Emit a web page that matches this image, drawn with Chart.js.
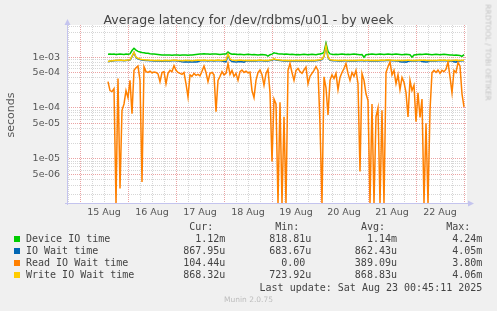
<!DOCTYPE html>
<html>
<head>
<meta charset="utf-8">
<script src="https://cdn.jsdelivr.net/npm/chart.js@4.4.1/dist/chart.umd.min.js"></script>
<style>
  html, body { margin: 0; padding: 0; background: #f0f0f0; }
  #wrap { position: relative; width: 497px; height: 311px; overflow: hidden; font-family: "DejaVu Sans", sans-serif; }
  #chart { position: absolute; left: 0; top: 0; }
  .t { position: absolute; white-space: pre; }
  .mono { font-family: "DejaVu Sans Mono", monospace; font-size: 10px; line-height: 12px; color: #444; }
  .sq { position: absolute; width: 6px; height: 6px; }
</style>
</head>
<body>
<div id="wrap">
  <canvas id="chart" width="497" height="311"></canvas>
  <div class="t" id="title" style="left:0; width:497px; top:12px; text-align:center; font-size:12.5px; line-height:15px; color:#444;">Average latency for /dev/rdbms/u01 - by week</div>
  <div class="t" style="left:-19px; top:109px; width:60px; text-align:center; font-size:11px; line-height:12px; color:#555; transform:rotate(-90deg);">seconds</div>
  <div class="t" style="left:438px; top:48px; width:100px; text-align:center; font-size:7.5px; line-height:9px; color:#c4c4c4; transform:rotate(90deg);">RRDTOOL / TOBI OETIKER</div>
  <div class="t" style="left:0; width:497px; top:295px; text-align:center; font-size:7.5px; line-height:10px; color:#bdbdbd;">Munin 2.0.75</div>
  <div id="legend"></div>
</div>
<script>
// Sample times: hours after 15 Aug 00:00, one value per hour
const startHour = 14;
const stepHours = 1;

// Device IO time (seconds)
const deviceIO = [
  1.14e-3, 1.15e-3, 1.14e-3, 1.15e-3, 1.13e-3, 1.14e-3, 1.15e-3, 1.14e-3, 1.13e-3, 1.15e-3, 1.14e-3, 1.16e-3,
  1.35e-3, 1.50e-3, 1.38e-3, 1.30e-3, 1.27e-3, 1.24e-3, 1.22e-3, 1.20e-3, 1.19e-3, 1.17e-3, 1.16e-3, 1.15e-3,
  1.14e-3, 1.13e-3, 1.12e-3, 1.11e-3, 1.10e-3, 1.10e-3, 1.11e-3, 1.10e-3, 1.09e-3, 1.10e-3, 1.11e-3, 1.10e-3,
  1.09e-3, 1.10e-3, 1.11e-3, 1.10e-3, 1.09e-3, 1.10e-3, 1.11e-3, 1.12e-3, 1.13e-3, 1.14e-3, 1.15e-3, 1.16e-3,
  1.17e-3, 1.16e-3, 1.15e-3, 1.14e-3, 1.15e-3, 1.16e-3, 1.15e-3, 1.14e-3, 1.13e-3, 1.14e-3, 1.15e-3, 1.16e-3,
  1.27e-3, 1.18e-3, 1.14e-3, 1.15e-3, 1.14e-3, 1.13e-3, 1.14e-3, 1.13e-3, 1.12e-3, 1.13e-3, 1.14e-3, 1.13e-3,
  1.12e-3, 1.13e-3, 1.12e-3, 1.11e-3, 1.12e-3, 1.13e-3, 1.12e-3, 1.11e-3, 1.05e-3, 1.12e-3, 1.15e-3, 1.22e-3,
  1.19e-3, 1.17e-3, 1.16e-3, 1.15e-3, 1.14e-3, 1.15e-3, 1.14e-3, 1.13e-3, 1.14e-3, 1.13e-3, 1.12e-3, 1.13e-3,
  1.12e-3, 1.13e-3, 1.14e-3, 1.13e-3, 1.12e-3, 1.13e-3, 1.14e-3, 1.13e-3, 1.12e-3, 1.14e-3, 1.16e-3, 1.18e-3,
  1.25e-3, 1.88e-3, 1.30e-3, 1.16e-3, 1.14e-3, 1.13e-3, 1.14e-3, 1.13e-3, 1.14e-3, 1.15e-3, 1.14e-3, 1.13e-3,
  1.14e-3, 1.13e-3, 1.14e-3, 1.15e-3, 1.14e-3, 1.13e-3, 1.12e-3, 1.13e-3, 1.00e-3, 1.12e-3, 1.13e-3, 1.14e-3,
  1.15e-3, 1.14e-3, 1.13e-3, 1.14e-3, 1.15e-3, 1.14e-3, 1.13e-3, 1.14e-3, 1.15e-3, 1.14e-3, 1.13e-3, 1.14e-3,
  1.15e-3, 1.14e-3, 1.13e-3, 1.12e-3, 1.13e-3, 1.14e-3, 1.13e-3, 1.12e-3, 1.00e-3, 1.11e-3, 1.12e-3, 1.13e-3,
  1.14e-3, 1.13e-3, 1.14e-3, 1.15e-3, 1.14e-3, 1.13e-3, 1.12e-3, 1.13e-3, 1.14e-3, 1.13e-3, 1.12e-3, 1.13e-3,
  1.14e-3, 1.13e-3, 1.12e-3, 1.11e-3, 1.10e-3, 1.09e-3, 1.10e-3, 1.09e-3, 1.08e-3, 1.04e-3, 1.12e-3
];

// IO Wait time
const ioWait = [
  8.1e-4, 8.3e-4, 8.4e-4, 8.5e-4, 8.6e-4, 8.6e-4, 8.7e-4, 8.6e-4, 8.5e-4, 8.6e-4, 8.7e-4, 8.8e-4,
  10.3e-4, 12.3e-4, 9.8e-4, 9.3e-4, 9.0e-4, 8.8e-4, 8.7e-4, 8.6e-4, 8.6e-4, 8.5e-4, 8.5e-4, 8.4e-4,
  8.4e-4, 8.5e-4, 8.4e-4, 8.3e-4, 8.4e-4, 8.5e-4, 8.4e-4, 8.4e-4, 8.5e-4, 8.6e-4, 8.5e-4, 8.4e-4,
  8.3e-4, 8.1e-4, 8.0e-4, 8.1e-4, 8.0e-4, 8.1e-4, 8.0e-4, 8.1e-4, 8.0e-4, 8.1e-4, 8.5e-4, 8.5e-4,
  8.6e-4, 8.5e-4, 8.4e-4, 8.5e-4, 8.5e-4, 8.4e-4, 8.5e-4, 8.6e-4, 8.5e-4, 8.4e-4, 8.2e-4, 8.1e-4,
  11.2e-4, 8.8e-4, 8.2e-4, 8.1e-4, 8.0e-4, 8.1e-4, 8.2e-4, 8.1e-4, 8.0e-4, 8.5e-4, 8.4e-4, 8.5e-4,
  8.4e-4, 8.5e-4, 8.4e-4, 8.5e-4, 8.6e-4, 8.5e-4, 8.4e-4, 8.5e-4, 8.4e-4, 8.6e-4, 8.7e-4, 9.1e-4,
  8.8e-4, 8.7e-4, 8.6e-4, 8.5e-4, 8.4e-4, 8.5e-4, 8.4e-4, 8.5e-4, 8.4e-4, 8.4e-4, 8.5e-4, 8.4e-4,
  8.5e-4, 8.4e-4, 8.4e-4, 8.5e-4, 8.4e-4, 8.4e-4, 8.5e-4, 8.4e-4, 8.5e-4, 8.6e-4, 8.7e-4, 9.0e-4,
  10.3e-4, 16.8e-4, 9.8e-4, 8.7e-4, 8.6e-4, 8.5e-4, 8.5e-4, 8.4e-4, 8.5e-4, 8.4e-4, 8.5e-4, 8.5e-4,
  8.4e-4, 8.5e-4, 8.4e-4, 8.5e-4, 8.4e-4, 8.5e-4, 8.5e-4, 8.6e-4, 8.4e-4, 8.5e-4, 8.5e-4, 8.4e-4,
  8.5e-4, 8.4e-4, 8.5e-4, 8.4e-4, 8.5e-4, 8.6e-4, 8.5e-4, 8.6e-4, 8.7e-4, 8.6e-4, 8.5e-4, 8.5e-4,
  8.4e-4, 8.5e-4, 8.1e-4, 8.0e-4, 8.1e-4, 8.0e-4, 8.2e-4, 8.5e-4, 8.4e-4, 8.5e-4, 8.4e-4, 8.5e-4,
  8.6e-4, 8.2e-4, 8.1e-4, 8.0e-4, 8.1e-4, 8.5e-4, 8.4e-4, 8.5e-4, 8.4e-4, 8.5e-4, 8.6e-4, 8.5e-4,
  8.6e-4, 8.5e-4, 8.4e-4, 8.5e-4, 8.4e-4, 8.1e-4, 8.0e-4, 8.5e-4, 8.4e-4, 8.5e-4, 8.5e-4
];

// Read IO Wait time (0 = idle, drawn on the axis floor)
const readIOWait = [
  3.3e-4, 2.2e-4, 2.1e-4, 2.4e-4, 0, 3.8e-4, 2.6e-6, 9e-5, 1.2e-4, 2.2e-4, 1.6e-4, 3.5e-4,
  7.7e-5, 5.5e-4, 6.2e-4, 6.7e-4, 3.5e-4, 3.5e-6, 6.5e-4, 5.2e-4, 5.0e-4, 5.3e-4, 4.9e-4, 5.1e-4,
  5.0e-4, 4.7e-4, 3.3e-4, 5.0e-4, 5.2e-4, 3.0e-4, 4.8e-4, 5.5e-4, 5.2e-4, 6.8e-4, 5.5e-4, 5.0e-4,
  4.8e-4, 4.6e-4, 5.0e-4, 3.0e-4, 1.65e-4, 4.5e-4, 4.2e-4, 4.8e-4, 4.4e-4, 4.6e-4, 4.3e-4, 5.3e-4,
  6.7e-4, 5.0e-4, 3.3e-4, 4.8e-4, 5.0e-4, 4.5e-4, 8.5e-5, 3.5e-4, 4.2e-4, 5.2e-4, 4.5e-4, 4.8e-4,
  7.5e-4, 4.6e-4, 5.5e-4, 4.2e-4, 4.8e-4, 3.5e-4, 5.2e-4, 5.6e-4, 5.0e-4, 5.3e-4, 4.9e-4, 5.1e-4,
  2.2e-4, 1.6e-4, 3.5e-4, 5.0e-4, 5.6e-4, 4.5e-4, 2.8e-4, 4.8e-4, 5.8e-4, 2.0e-4, 8.9e-6, 1.5e-4,
  1.2e-4, 0, 1.3e-4, 0, 6.7e-5, 0, 5.5e-4, 7.5e-4, 5.0e-4, 3.5e-4, 5.5e-4, 6.0e-4,
  5.2e-4, 4.8e-4, 5.6e-4, 6.4e-4, 3.0e-4, 4.2e-4, 4.8e-4, 5.5e-4, 6.5e-4, 5.5e-4, 4.8e-5, 0,
  4.1e-4, 2.5e-4, 7.3e-5, 3.5e-4, 4.5e-4, 3.8e-4, 4.8e-4, 2.3e-4, 4.0e-4, 5.0e-4, 6.0e-4, 7.5e-4,
  4.8e-4, 3.5e-4, 5.0e-4, 4.2e-4, 5.5e-4, 3.0e-4, 5.6e-6, 4.8e-4, 3.5e-4, 1.9e-4, 1.4e-4, 0,
  1.2e-4, 0, 6.7e-5, 1.0e-4, 0, 9.0e-5, 0, 5.0e-4, 6.5e-4, 8.1e-4, 4.5e-4, 5.5e-4,
  3.0e-4, 4.5e-4, 2.3e-4, 4.0e-4, 3.2e-4, 2.0e-4, 6.7e-5, 3.5e-4, 2.2e-4, 2.8e-4, 5.4e-5, 2.0e-4,
  6.5e-5, 1.5e-4, 0, 5.0e-5, 0, 9.0e-5, 5.0e-4, 5.5e-4, 5.0e-4, 5.6e-4, 4.8e-4, 5.5e-4,
  5.2e-4, 5.8e-4, 8.0e-4, 4.1e-4, 2.0e-4, 5.5e-4, 5.0e-4, 7.8e-4, 6.7e-4, 1.9e-4, 1.05e-4
];

// Write IO Wait time
const writeIOWait = [
  8.2e-4, 8.4e-4, 8.5e-4, 8.6e-4, 8.7e-4, 8.7e-4, 8.8e-4, 8.7e-4, 8.6e-4, 8.7e-4, 8.8e-4, 8.9e-4,
  10.5e-4, 12.5e-4, 10.0e-4, 9.5e-4, 9.2e-4, 9.0e-4, 8.9e-4, 8.8e-4, 8.8e-4, 8.7e-4, 8.7e-4, 8.6e-4,
  8.6e-4, 8.7e-4, 8.6e-4, 8.5e-4, 8.6e-4, 8.7e-4, 8.6e-4, 8.6e-4, 8.7e-4, 8.8e-4, 8.7e-4, 8.6e-4,
  8.6e-4, 8.5e-4, 8.6e-4, 8.7e-4, 8.6e-4, 8.6e-4, 8.5e-4, 8.6e-4, 8.7e-4, 8.8e-4, 8.7e-4, 8.7e-4,
  8.8e-4, 8.7e-4, 8.6e-4, 8.7e-4, 8.7e-4, 8.6e-4, 8.7e-4, 8.8e-4, 8.7e-4, 8.6e-4, 8.7e-4, 8.8e-4,
  11.5e-4, 9.2e-4, 8.8e-4, 8.7e-4, 8.6e-4, 8.7e-4, 8.8e-4, 8.7e-4, 8.6e-4, 8.7e-4, 8.6e-4, 8.7e-4,
  8.6e-4, 8.7e-4, 8.6e-4, 8.7e-4, 8.8e-4, 8.7e-4, 8.6e-4, 8.7e-4, 8.6e-4, 8.8e-4, 8.9e-4, 9.3e-4,
  9.0e-4, 8.9e-4, 8.8e-4, 8.7e-4, 8.6e-4, 8.7e-4, 8.6e-4, 8.7e-4, 8.6e-4, 8.6e-4, 8.7e-4, 8.6e-4,
  8.7e-4, 8.6e-4, 8.6e-4, 8.7e-4, 8.6e-4, 8.6e-4, 8.7e-4, 8.6e-4, 8.7e-4, 8.8e-4, 8.9e-4, 9.2e-4,
  10.5e-4, 17.0e-4, 10.0e-4, 8.9e-4, 8.8e-4, 8.7e-4, 8.7e-4, 8.6e-4, 8.7e-4, 8.6e-4, 8.7e-4, 8.7e-4,
  8.6e-4, 8.7e-4, 8.6e-4, 8.7e-4, 8.6e-4, 8.7e-4, 8.7e-4, 8.8e-4, 8.6e-4, 8.7e-4, 8.7e-4, 8.6e-4,
  8.7e-4, 8.6e-4, 8.7e-4, 8.6e-4, 8.7e-4, 8.8e-4, 8.7e-4, 8.8e-4, 8.9e-4, 8.8e-4, 8.7e-4, 8.7e-4,
  8.6e-4, 8.7e-4, 8.6e-4, 8.7e-4, 8.6e-4, 8.7e-4, 8.8e-4, 8.7e-4, 8.6e-4, 8.7e-4, 8.6e-4, 8.7e-4,
  8.8e-4, 8.7e-4, 8.8e-4, 8.7e-4, 8.6e-4, 8.7e-4, 8.6e-4, 8.7e-4, 8.6e-4, 8.7e-4, 8.8e-4, 8.7e-4,
  8.8e-4, 8.7e-4, 8.6e-4, 8.7e-4, 8.6e-4, 8.7e-4, 8.8e-4, 8.7e-4, 8.6e-4, 8.7e-4, 8.7e-4
];

const seriesNames = ['Device IO time', 'IO Wait time', 'Read IO Wait time', 'Write IO Wait time'];
const seriesColors = ['#00cc00', '#0066b3', '#ff8000', '#ffcc00'];
const curValues = ['1.12m', '867.95u', '104.44u', '868.32u'];
const minValues = ['818.81u', '683.67u', '0.00 ', '723.92u'];
const avgValues = ['1.14m', '862.43u', '389.09u', '868.83u'];
const maxValues = ['4.24m', '4.05m', '3.80m', '4.06m'];
const lastUpdate = 'Last update: Sat Aug 23 00:45:11 2025';

// Axis ticks
const xLabels = ['15 Aug', '16 Aug', '17 Aug', '18 Aug', '19 Aug', '20 Aug', '21 Aug', '22 Aug'];
const yTickValues = [5e-6, 1e-5, 5e-5, 1e-4, 5e-4, 1e-3];
const yTickLabels = ['5e-06', '1e-05', '5e-05', '1e-04', '5e-04', '1e-03'];

const hourMin = -6.5, hourMax = 193.5;
const yMin = 1.35e-6, yMax = 4.3e-3;

const majorGrid = '#eaa3a3';
const minorGrid = '#d6d6d6';
const axisColor = '#c4c4ee';

function toPoints(values) {
    return values.map((v, i) => ({ x: startHour + i * stepHours, y: v === 0 ? yMin : v }));
}

function yLabelIndex(v) {
    return yTickValues.findIndex(t => Math.abs(v - t) / t < 1e-6);
}

// grid lines every 6 hours, red at midnight
const xGrid = [];
for (let h = -6; h <= hourMax; h += 6) xGrid.push(h);

// log grid: 1..9 per decade
const yGrid = [];
for (let e = -6; e <= -3; e++) {
    for (let m = 1; m <= 9; m++) {
        const v = Number((m * Math.pow(10, e)).toPrecision(3));
        if (v >= yMin && v <= yMax) yGrid.push(v);
    }
}

const plotBackground = {
    id: 'plotBackground',
    beforeDraw(chart) {
        const { ctx, chartArea: a } = chart;
        ctx.save();
        ctx.fillStyle = '#ffffff';
        ctx.fillRect(a.left, a.top, a.right - a.left, a.bottom - a.top);
        ctx.restore();
    },
    afterDraw(chart) {
        const { ctx, chartArea: a } = chart;
        ctx.save();
        ctx.strokeStyle = axisColor;
        ctx.fillStyle = axisColor;
        ctx.lineWidth = 1;
        ctx.beginPath();
        ctx.moveTo(a.left + 0.5, a.bottom + 2);
        ctx.lineTo(a.left + 0.5, a.top - 2);
        ctx.moveTo(a.left - 2, a.bottom + 0.5);
        ctx.lineTo(a.right + 3, a.bottom + 0.5);
        ctx.stroke();
        // arrows
        ctx.beginPath();
        ctx.moveTo(a.left + 0.5, a.top - 6);
        ctx.lineTo(a.left - 2.5, a.top);
        ctx.lineTo(a.left + 3.5, a.top);
        ctx.closePath();
        ctx.fill();
        ctx.beginPath();
        ctx.moveTo(a.right + 7, a.bottom + 0.5);
        ctx.lineTo(a.right + 1, a.bottom - 2.5);
        ctx.lineTo(a.right + 1, a.bottom + 3.5);
        ctx.closePath();
        ctx.fill();
        ctx.restore();
    }
};

function lineSet(label, values, color, order) {
    return {
        label: label,
        data: toPoints(values),
        borderColor: color,
        backgroundColor: color,
        borderWidth: 1.5,
        pointRadius: 0,
        tension: 0,
        order: order
    };
}

new Chart(document.getElementById('chart'), {
    type: 'line',
    data: {
        datasets: [
            lineSet(seriesNames[0], deviceIO, seriesColors[0], 4),
            lineSet(seriesNames[1], ioWait, seriesColors[1], 3),
            lineSet(seriesNames[2], readIOWait, seriesColors[2], 2),
            lineSet(seriesNames[3], writeIOWait, seriesColors[3], 1)
        ]
    },
    options: {
        responsive: false,
        animation: false,
        events: [],
        layout: { padding: { left: 0, top: 25, right: 30, bottom: 0 } },
        plugins: { legend: { display: false }, tooltip: { enabled: false } },
        scales: {
            x: {
                type: 'linear',
                min: hourMin,
                max: hourMax,
                bounds: 'data',
                afterBuildTicks: s => { s.ticks = xGrid.map(v => ({ value: v })); },
                afterFit: s => { s.height = 108; },
                grid: {
                    color: c => (c.tick && c.tick.value % 24 === 0) ? majorGrid : minorGrid,
                    lineWidth: 1,
                    drawTicks: false
                },
                border: { display: false, dash: [1, 1] },
                ticks: {
                    autoSkip: false,
                    maxRotation: 0,
                    padding: 4,
                    color: '#555',
                    font: { family: 'DejaVu Sans', size: 9.5 },
                    callback: v => ((v - 12) % 24 === 0 && v >= 12) ? xLabels[(v - 12) / 24] : ''
                }
            },
            y: {
                type: 'logarithmic',
                min: yMin,
                max: yMax,
                afterBuildTicks: s => { s.ticks = yGrid.map(v => ({ value: v })); },
                afterFit: s => { s.width = 67; },
                grid: {
                    color: c => (c.tick && yLabelIndex(c.tick.value) >= 0) ? majorGrid : minorGrid,
                    lineWidth: 1,
                    drawTicks: false
                },
                border: { display: false, dash: [1, 1] },
                ticks: {
                    autoSkip: false,
                    padding: 7,
                    color: '#555',
                    font: { family: 'DejaVu Sans', size: 9.5 },
                    callback: v => {
                        const i = yLabelIndex(v);
                        return i >= 0 ? yTickLabels[i] : '';
                    }
                }
            }
        }
    },
    plugins: [plotBackground]
});

// Legend table underneath
function addText(text, right, centerY, cls) {
    const d = document.createElement('div');
    d.className = 't ' + cls;
    d.textContent = text;
    d.style.right = (497 - right) + 'px';
    d.style.top = (centerY - 6) + 'px';
    d.style.textAlign = 'right';
    document.getElementById('legend').appendChild(d);
}

const colRight = [225.3, 311.3, 397, 482.3];
const headers = ['Cur:  ', 'Min:  ', 'Avg:  ', 'Max:  '];
headers.forEach((h, i) => addText(h, colRight[i], 227.3, 'mono'));

seriesNames.forEach((name, r) => {
    const cy = 239.3 + r * 12;
    const sq = document.createElement('div');
    sq.className = 'sq';
    sq.style.left = '14px';
    sq.style.top = (cy - 3) + 'px';
    sq.style.background = seriesColors[r];
    document.getElementById('legend').appendChild(sq);

    const n = document.createElement('div');
    n.className = 't mono';
    n.textContent = name;
    n.style.left = '26px';
    n.style.top = (cy - 6) + 'px';
    document.getElementById('legend').appendChild(n);

    [curValues, minValues, avgValues, maxValues].forEach((col, c) => {
        addText(col[r], colRight[c], cy, 'mono');
    });
});

addText(lastUpdate, 482.3, 287.7, 'mono');
</script>
</body>
</html>
